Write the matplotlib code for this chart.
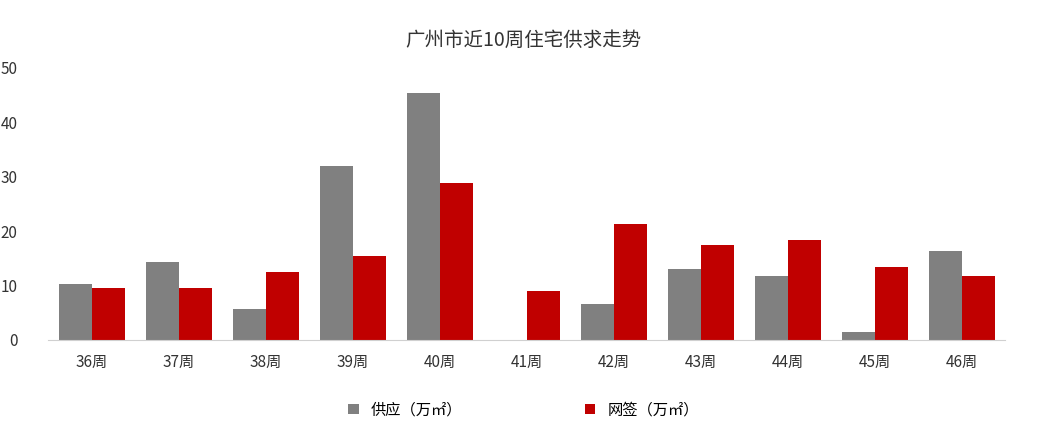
import matplotlib.pyplot as plt
import numpy as np

plt.rcParams['font.family'] = ['Noto Sans CJK SC', 'DejaVu Sans']

weeks = ['36周', '37周', '38周', '39周', '40周', '41周', '42周', '43周', '44周', '45周', '46周']
supply = [10.3, 14.3, 5.7, 32.0, 45.4, 0, 6.6, 13.0, 11.8, 1.5, 16.4]
signed = [9.6, 9.6, 12.5, 15.4, 28.9, 9.0, 21.3, 17.5, 18.4, 13.4, 11.8]

fig = plt.figure(figsize=(10.47, 4.32), dpi=100)
ax = fig.add_axes([0.046, 0.213, 0.914, 0.63])

x = np.arange(len(weeks))
w = 0.38
ax.bar(x - w / 2, supply, w, color='#808080', label='供应（万㎡）')
ax.bar(x + w / 2, signed, w, color='#C00000', label='网签（万㎡）')

ax.set_xlim(-0.5, len(weeks) - 0.5)
ax.set_ylim(0, 50)
ax.set_yticks(range(0, 51, 10))
ax.set_xticks(x, weeks)
ax.tick_params(length=0, labelsize=11, colors='#333333')
ax.tick_params(axis='y', pad=22)
ax.tick_params(axis='x', pad=10)
for s in ['top', 'right', 'left']:
    ax.spines[s].set_visible(False)
ax.spines['bottom'].set_color('#d0d0d0')

fig.suptitle('广州市近10周住宅供求走势', y=0.93, fontsize=14, color='#333333')
fig.legend(loc='lower center', ncol=2, frameon=False, fontsize=11,
           bbox_to_anchor=(0.5, 0.0), columnspacing=8, handlelength=0.7)

fig.savefig('out.png', dpi=100)
